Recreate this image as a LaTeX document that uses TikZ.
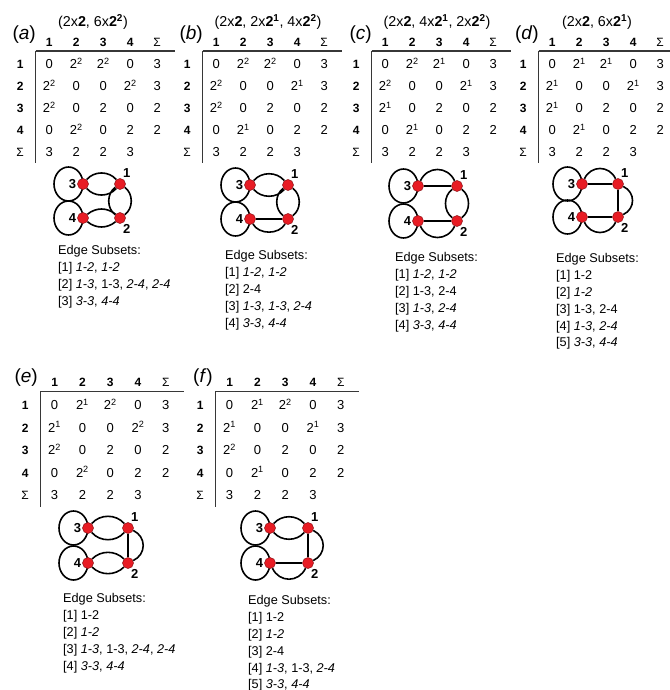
\documentclass[tikz,border=0pt]{standalone}
\usepackage{fontspec}
\setmainfont{Liberation Sans}
\usepackage{tikz}
\usetikzlibrary{matrix}

\definecolor{nodered}{RGB}{232,28,36}
\definecolor{rulegray}{RGB}{55,55,55}
\pgfdeclarelayer{edges}
\pgfsetlayers{edges,main}

\begin{document}
\begin{tikzpicture}[x=1pt, y=1pt,
        vertex/.style={circle, fill=nodered, draw=nodered!60!black, line width=0.5pt, minimum size=11pt, inner sep=0pt},
        vlabel/.style={font=\fontsize{13}{15}\selectfont\bfseries, inner sep=1pt},
        graphline/.style={line width=1.6pt},
        selfloop/.style={start angle=0, end angle=360, x radius=14.5, y radius=17},
        rule/.style={draw=rulegray, line width=1.2pt},
        table/.style={matrix of nodes, inner sep=0pt, column sep=0pt, row sep=0pt,
            nodes={minimum width=27pt, minimum height=22pt, inner sep=0pt, text height=9.3pt, text depth=0pt, font=\fontsize{13}{15}\selectfont},
            column 1/.style={nodes={minimum width=31pt, font=\fontsize{12}{14}\selectfont\bfseries}},
            row 1/.style={nodes={font=\fontsize{12}{14}\selectfont\bfseries}}},
        widetable/.style={table, nodes={minimum width=27.8pt, minimum height=22.6pt}},
        panel/.style={font=\fontsize{19}{21}\selectfont, inner sep=0pt},
        heading/.style={font=\fontsize{14.3}{16}\selectfont, inner sep=0pt},
        subsets/.style={font=\fontsize{12.7}{16.8}\selectfont, align=left, inner sep=0pt, anchor=north west}]

    \useasboundingbox (0,-690) rectangle (669,0);

    % (a)
    \begin{scope}[shift={(0,0)}]
        \node[panel, anchor=base east] (a_label) at (36,-40) {(\textit{a})};
        \node[heading] (a_header) at (93,-22) {(2x\textbf{2}, 6x\textbf{2\textsuperscript{2}})};
        \matrix (a_table) [table, anchor=north west] at (4.5,-31) {
              & 1 & 2 & 3 & 4 & \textmd{Σ} \\
            1 & 0 & 2\textsuperscript{2} & 2\textsuperscript{2} & 0 & 3 \\
            2 & 2\textsuperscript{2} & 0 & 0 & 2\textsuperscript{2} & 3 \\
            3 & 2\textsuperscript{2} & 0 & 2 & 0 & 2 \\
            4 & 0 & 2\textsuperscript{2} & 0 & 2 & 2 \\
            \textmd{Σ} & 3 & 2 & 2 & 3 & \\
        };
        \coordinate (a_corner) at ([yshift=2pt]a_table-2-2.north west);
        \draw[rule] (a_corner) -- ([xshift=4pt, yshift=2pt]a_table-2-6.north east);
        \draw[rule] (a_corner) -- (a_table-6-2.south west);

        \node[vertex] (a_1) at (120,-184) {};
        \node[vertex] (a_2) at (120,-218) {};
        \node[vertex] (a_3) at (83,-184) {};
        \node[vertex] (a_4) at (83,-218) {};
        \node[vlabel, anchor=south west] (a_1_num) at (a_1.70) {1};
        \node[vlabel, anchor=north west] (a_2_num) at (a_2.-70) {2};
        \node[vlabel, anchor=east] (a_3_num) at (a_3.west) {3};
        \node[vlabel, anchor=east] (a_4_num) at (a_4.west) {4};

        \begin{pgfonlayer}{edges}
            \draw[graphline] (a_3.center) arc[selfloop];
            \draw[graphline] (a_4.center) arc[selfloop];
            \draw[graphline] (a_3) to[bend left=50] (a_1);
            \draw[graphline] (a_3) to[bend right=50] (a_1);
            \draw[graphline] (a_1) to[bend left=55] (a_2);
            \draw[graphline] (a_1) to[bend right=55] (a_2);
            \draw[graphline] (a_4) to[bend left=40] (a_2);
            \draw[graphline] (a_4) to[bend right=40] (a_2);
        \end{pgfonlayer}

        \node[subsets] (a_subsets) at (58,-245.4) {Edge Subsets:\\{}[1] \textit{1-2}, \textit{1-2}\\{}[2] \textit{1-3}, 1-3, \textit{2-4}, \textit{2-4}\\{}[3] \textit{3-3}, \textit{4-4}};
    \end{scope}

    % (b)
    \begin{scope}[shift={(167,0)}]
        \node[panel, anchor=base east] (b_label) at (36,-40) {(\textit{b})};
        \node[heading] (b_header) at (101,-22) {(2x\textbf{2}, 2x\textbf{2\textsuperscript{1}}, 4x\textbf{2\textsuperscript{2}})};
        \matrix (b_table) [table, anchor=north west] at (4.5,-31) {
              & 1 & 2 & 3 & 4 & \textmd{Σ} \\
            1 & 0 & 2\textsuperscript{2} & 2\textsuperscript{2} & 0 & 3 \\
            2 & 2\textsuperscript{2} & 0 & 0 & 2\textsuperscript{1} & 3 \\
            3 & 2\textsuperscript{2} & 0 & 2 & 0 & 2 \\
            4 & 0 & 2\textsuperscript{1} & 0 & 2 & 2 \\
            \textmd{Σ} & 3 & 2 & 2 & 3 & \\
        };
        \coordinate (b_corner) at ([yshift=2pt]b_table-2-2.north west);
        \draw[rule] (b_corner) -- ([xshift=4pt, yshift=2pt]b_table-2-6.north east);
        \draw[rule] (b_corner) -- (b_table-6-2.south west);

        \node[vertex] (b_1) at (121,-185) {};
        \node[vertex] (b_2) at (121,-219) {};
        \node[vertex] (b_3) at (83,-185) {};
        \node[vertex] (b_4) at (83,-219) {};
        \node[vlabel, anchor=south west] (b_1_num) at (b_1.70) {1};
        \node[vlabel, anchor=north west] (b_2_num) at (b_2.-70) {2};
        \node[vlabel, anchor=east] (b_3_num) at (b_3.west) {3};
        \node[vlabel, anchor=east] (b_4_num) at (b_4.west) {4};

        \begin{pgfonlayer}{edges}
            \draw[graphline] (b_3.center) arc[selfloop];
            \draw[graphline] (b_4.center) arc[selfloop];
            \draw[graphline] (b_3) to[bend left=50] (b_1);
            \draw[graphline] (b_3) to[bend right=50] (b_1);
            \draw[graphline] (b_1) to[bend left=55] (b_2);
            \draw[graphline] (b_1) to[bend right=55] (b_2);
            \draw[graphline] (b_4) -- (b_2);
            \draw[graphline] (b_4) to[bend right=60] (b_2);
        \end{pgfonlayer}

        \node[subsets] (b_subsets) at (58,-250.4) {Edge Subsets:\\{}[1] \textit{1-2}, \textit{1-2}\\{}[2] 2-4\\{}[3] \textit{1-3}, \textit{1-3}, \textit{2-4}\\{}[4] \textit{3-3}, \textit{4-4}};
    \end{scope}

    % (c)
    \begin{scope}[shift={(336,0)}]
        \node[panel, anchor=base east] (c_label) at (36,-40) {(\textit{c})};
        \node[heading] (c_header) at (101,-22) {(2x\textbf{2}, 4x\textbf{2\textsuperscript{1}}, 2x\textbf{2\textsuperscript{2}})};
        \matrix (c_table) [table, anchor=north west] at (4.5,-31) {
              & 1 & 2 & 3 & 4 & \textmd{Σ} \\
            1 & 0 & 2\textsuperscript{2} & 2\textsuperscript{1} & 0 & 3 \\
            2 & 2\textsuperscript{2} & 0 & 0 & 2\textsuperscript{1} & 3 \\
            3 & 2\textsuperscript{1} & 0 & 2 & 0 & 2 \\
            4 & 0 & 2\textsuperscript{1} & 0 & 2 & 2 \\
            \textmd{Σ} & 3 & 2 & 2 & 3 & \\
        };
        \coordinate (c_corner) at ([yshift=2pt]c_table-2-2.north west);
        \draw[rule] (c_corner) -- ([xshift=4pt, yshift=2pt]c_table-2-6.north east);
        \draw[rule] (c_corner) -- (c_table-6-2.south west);

        \node[vertex] (c_1) at (121,-186) {};
        \node[vertex] (c_2) at (121,-221) {};
        \node[vertex] (c_3) at (82,-186) {};
        \node[vertex] (c_4) at (82,-221) {};
        \node[vlabel, anchor=south west] (c_1_num) at (c_1.70) {1};
        \node[vlabel, anchor=north west] (c_2_num) at (c_2.-70) {2};
        \node[vlabel, anchor=east] (c_3_num) at (c_3.west) {3};
        \node[vlabel, anchor=east] (c_4_num) at (c_4.west) {4};

        \begin{pgfonlayer}{edges}
            \draw[graphline] (c_3.center) arc[selfloop];
            \draw[graphline] (c_4.center) arc[selfloop];
            \draw[graphline] (c_3) -- (c_1);
            \draw[graphline] (c_3) to[bend left=65, looseness=1.25] (c_1);
            \draw[graphline] (c_1) to[bend left=55] (c_2);
            \draw[graphline] (c_1) to[bend right=55] (c_2);
            \draw[graphline] (c_4) -- (c_2);
            \draw[graphline] (c_4) to[bend right=65, looseness=1.25] (c_2);
        \end{pgfonlayer}

        \node[subsets] (c_subsets) at (59,-252.4) {Edge Subsets:\\{}[1] \textit{1-2}, \textit{1-2}\\{}[2] 1-3, 2-4\\{}[3] \textit{1-3}, \textit{2-4}\\{}[4] \textit{3-3}, \textit{4-4}};
    \end{scope}

    % (d)
    \begin{scope}[shift={(503,0)}]
        \node[panel, anchor=base east] (d_label) at (36,-40) {(\textit{d})};
        \node[heading] (d_header) at (94,-22) {(2x\textbf{2}, 6x\textbf{2\textsuperscript{1}})};
        \matrix (d_table) [table, anchor=north west] at (4.5,-31) {
              & 1 & 2 & 3 & 4 & \textmd{Σ} \\
            1 & 0 & 2\textsuperscript{1} & 2\textsuperscript{1} & 0 & 3 \\
            2 & 2\textsuperscript{1} & 0 & 0 & 2\textsuperscript{1} & 3 \\
            3 & 2\textsuperscript{1} & 0 & 2 & 0 & 2 \\
            4 & 0 & 2\textsuperscript{1} & 0 & 2 & 2 \\
            \textmd{Σ} & 3 & 2 & 2 & 3 & \\
        };
        \coordinate (d_corner) at ([yshift=2pt]d_table-2-2.north west);
        \draw[rule] (d_corner) -- ([xshift=4pt, yshift=2pt]d_table-2-6.north east);
        \draw[rule] (d_corner) -- (d_table-6-2.south west);

        \node[vertex] (d_1) at (115,-184) {};
        \node[vertex] (d_2) at (115,-217) {};
        \node[vertex] (d_3) at (79,-184) {};
        \node[vertex] (d_4) at (79,-217) {};
        \node[vlabel, anchor=south west] (d_1_num) at (d_1.70) {1};
        \node[vlabel, anchor=north west] (d_2_num) at (d_2.-70) {2};
        \node[vlabel, anchor=east] (d_3_num) at (d_3.west) {3};
        \node[vlabel, anchor=east] (d_4_num) at (d_4.west) {4};

        \begin{pgfonlayer}{edges}
            \draw[graphline] (d_3.center) arc[selfloop];
            \draw[graphline] (d_4.center) arc[selfloop];
            \draw[graphline] (d_3) -- (d_1);
            \draw[graphline] (d_3) to[bend left=65, looseness=1.25] (d_1);
            \draw[graphline] (d_1) -- (d_2);
            \draw[graphline] (d_1) to[bend left=65, looseness=1.25] (d_2);
            \draw[graphline] (d_4) -- (d_2);
            \draw[graphline] (d_4) to[bend right=65, looseness=1.25] (d_2);
        \end{pgfonlayer}

        \node[subsets] (d_subsets) at (53,-253.4) {Edge Subsets:\\{}[1] 1-2\\{}[2] \textit{1-2}\\{}[3] 1-3, 2-4\\{}[4] \textit{1-3}, \textit{2-4}\\{}[5] \textit{3-3}, \textit{4-4}};
    \end{scope}

    % (e)
    \begin{scope}[shift={(5,-340)}]
        \node[panel, anchor=base east] (e_label) at (33,-42) {(\textit{e})};
        \matrix (e_table) [widetable, anchor=north west] at (4.5,-30.7) {
              & 1 & 2 & 3 & 4 & \textmd{Σ} \\
            1 & 0 & 2\textsuperscript{1} & 2\textsuperscript{2} & 0 & 3 \\
            2 & 2\textsuperscript{1} & 0 & 0 & 2\textsuperscript{2} & 3 \\
            3 & 2\textsuperscript{2} & 0 & 2 & 0 & 2 \\
            4 & 0 & 2\textsuperscript{2} & 0 & 2 & 2 \\
            \textmd{Σ} & 3 & 2 & 2 & 3 & \\
        };
        \coordinate (e_corner) at ([yshift=2pt]e_table-2-2.north west);
        \draw[rule] (e_corner) -- ([xshift=4pt, yshift=2pt]e_table-2-6.north east);
        \draw[rule] (e_corner) -- (e_table-6-2.south west);

        \node[vertex] (e_1) at (123,-188) {};
        \node[vertex] (e_2) at (123,-223) {};
        \node[vertex] (e_3) at (83,-188) {};
        \node[vertex] (e_4) at (83,-223) {};
        \node[vlabel, anchor=south west] (e_1_num) at (e_1.70) {1};
        \node[vlabel, anchor=north west] (e_2_num) at (e_2.-70) {2};
        \node[vlabel, anchor=east] (e_3_num) at (e_3.west) {3};
        \node[vlabel, anchor=east] (e_4_num) at (e_4.west) {4};

        \begin{pgfonlayer}{edges}
            \draw[graphline] (e_3.center) arc[selfloop];
            \draw[graphline] (e_4.center) arc[selfloop];
            \draw[graphline] (e_3) to[bend left=50] (e_1);
            \draw[graphline] (e_3) to[bend right=50] (e_1);
            \draw[graphline] (e_1) -- (e_2);
            \draw[graphline] (e_1) to[bend left=65, looseness=1.25] (e_2);
            \draw[graphline] (e_4) to[bend left=45] (e_2);
            \draw[graphline] (e_4) to[bend right=45] (e_2);
        \end{pgfonlayer}

        \node[subsets] (e_subsets) at (58,-253.4) {Edge Subsets:\\{}[1] 1-2\\{}[2] \textit{1-2}\\{}[3] \textit{1-3}, 1-3, \textit{2-4}, \textit{2-4}\\{}[4] \textit{3-3}, \textit{4-4}};
    \end{scope}

    % (f)
    \begin{scope}[shift={(180,-340)}]
        \node[panel, anchor=base east] (f_label) at (33,-42) {(\textit{f})};
        \matrix (f_table) [widetable, anchor=north west] at (4.5,-30.7) {
              & 1 & 2 & 3 & 4 & \textmd{Σ} \\
            1 & 0 & 2\textsuperscript{1} & 2\textsuperscript{2} & 0 & 3 \\
            2 & 2\textsuperscript{1} & 0 & 0 & 2\textsuperscript{1} & 3 \\
            3 & 2\textsuperscript{2} & 0 & 2 & 0 & 2 \\
            4 & 0 & 2\textsuperscript{1} & 0 & 2 & 2 \\
            \textmd{Σ} & 3 & 2 & 2 & 3 & \\
        };
        \coordinate (f_corner) at ([yshift=2pt]f_table-2-2.north west);
        \draw[rule] (f_corner) -- ([xshift=4pt, yshift=2pt]f_table-2-6.north east);
        \draw[rule] (f_corner) -- (f_table-6-2.south west);

        \node[vertex] (f_1) at (128,-188) {};
        \node[vertex] (f_2) at (128,-223) {};
        \node[vertex] (f_3) at (90,-188) {};
        \node[vertex] (f_4) at (90,-223) {};
        \node[vlabel, anchor=south west] (f_1_num) at (f_1.70) {1};
        \node[vlabel, anchor=north west] (f_2_num) at (f_2.-70) {2};
        \node[vlabel, anchor=east] (f_3_num) at (f_3.west) {3};
        \node[vlabel, anchor=east] (f_4_num) at (f_4.west) {4};

        \begin{pgfonlayer}{edges}
            \draw[graphline] (f_3.center) arc[selfloop];
            \draw[graphline] (f_4.center) arc[selfloop];
            \draw[graphline] (f_3) to[bend left=50] (f_1);
            \draw[graphline] (f_3) to[bend right=50] (f_1);
            \draw[graphline] (f_1) -- (f_2);
            \draw[graphline] (f_1) to[bend left=65, looseness=1.25] (f_2);
            \draw[graphline] (f_4) -- (f_2);
            \draw[graphline] (f_4) to[bend right=65, looseness=1.25] (f_2);
        \end{pgfonlayer}

        \node[subsets] (f_subsets) at (68,-255.4) {Edge Subsets:\\{}[1] 1-2\\{}[2] \textit{1-2}\\{}[3] 2-4\\{}[4] \textit{1-3}, 1-3, \textit{2-4}\\{}[5] \textit{3-3}, \textit{4-4}};
    \end{scope}
\end{tikzpicture}
\end{document}
